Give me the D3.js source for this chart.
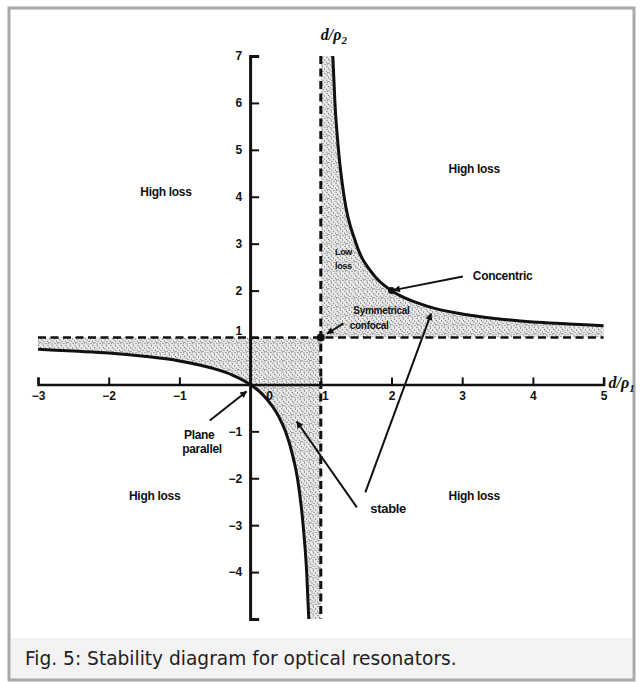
<!DOCTYPE html>
<html>
<head>
<meta charset="utf-8">
<script src="https://cdn.jsdelivr.net/npm/d3@7"></script>
<style>
  body { margin: 0; background: #fff; }
  svg { display: block; }
</style>
</head>
<body>
<svg id="fig" width="644" height="682"></svg>
<script>
// Stability boundary (1 - d/ρ1)(1 - d/ρ2) = 1, lower-left branch
const lowerBranchX = [-3, -2.5, -2, -1.5, -1, -0.5, -0.25, 0, 0.2, 0.4, 0.5, 0.6, 0.67, 0.75, 0.8, 0.83];
const lowerBranchY = [0.75, 0.71, 0.67, 0.6, 0.5, 0.33, 0.2, 0, -0.25, -0.67, -1, -1.5, -2, -3, -4, -5];
// upper-right branch
const upperBranchX = [1.17, 1.2, 1.25, 1.33, 1.5, 1.75, 2, 2.5, 3, 3.5, 4, 4.5, 5];
const upperBranchY = [7, 6, 5, 4, 3, 2.33, 2, 1.67, 1.5, 1.4, 1.33, 1.29, 1.25];

// axis ticks
const xTickValues = [-3, -2, -1, 0, 1, 2, 3, 4, 5];
const xTickLabels = ["\u22123", "\u22122", "\u22121", "0", "1", "2", "3", "4", "5"];
const yTickValues = [-4, -3, -2, -1, 1, 2, 3, 4, 5, 6, 7];
const yTickLabels = ["\u22124", "\u22123", "\u22122", "\u22121", "1", "2", "3", "4", "5", "6", "7"];

// named resonator configurations (d/ρ1, d/ρ2)
const specialNames = ["Symmetrical confocal", "Concentric", "Plane parallel"];
const specialX = [1, 2, 0];
const specialY = [1, 2, 0];

// region labels
const regionText = ["High loss", "High loss", "High loss", "High loss"];
const regionX = [-1.19, 3.17, -1.35, 3.17];
const regionY = [4.09, 4.58, -2.39, -2.39];

const captionText = "Fig. 5: Stability diagram for optical resonators.";

const svg = d3.select("#fig");

// figure frame and caption band
svg.append("rect").attr("x", 10.5).attr("y", 638).attr("width", 622).attr("height", 41)
  .attr("fill", "#f3f3f3");
svg.append("rect").attr("x", 9).attr("y", 8).attr("width", 625).attr("height", 672)
  .attr("fill", "none").attr("stroke", "#a8a8a8").attr("stroke-width", 3);

const cap = svg.append("text").attr("x", 25).attr("y", 659)
  .attr("font-family", "DejaVu Sans").attr("font-size", 14).attr("fill", "#222")
  .attr("dominant-baseline", "middle").text(captionText);
const capLen = cap.node().getComputedTextLength();
cap.attr("font-size", 14 * 432 / capLen);

const xs = d3.scaleLinear().domain([-3, 5]).range([38, 603.6]);
const ys = d3.scaleLinear().domain([-5, 7]).range([619, 56]);

// stipple texture for the stable region
const defs = svg.append("defs");
const pat = defs.append("pattern").attr("id", "stipple").attr("patternUnits", "userSpaceOnUse")
  .attr("width", 9).attr("height", 9);
pat.append("rect").attr("width", 9).attr("height", 9).attr("fill", "#e9e9e9");
const dotXs = [1, 5, 7.5, 3, 0.5, 6, 2.5, 8, 4.5, 3.5, 7];
const dotYs = [1.5, 0.5, 4, 3.5, 6, 7, 8.2, 8.5, 5.5, 1, 2];
dotXs.forEach((dx, i) => {
  pat.append("circle").attr("cx", dx).attr("cy", dotYs[i]).attr("r", 0.65).attr("fill", "#7a7a7a");
});

const arrowDef = defs.append("marker").attr("id", "head").attr("viewBox", "0 0 10 10")
  .attr("refX", 9).attr("refY", 5).attr("markerWidth", 10).attr("markerHeight", 7)
  .attr("markerUnits", "userSpaceOnUse").attr("orient", "auto");
arrowDef.append("path").attr("d", "M0,0 L10,5 L0,10 Z").attr("fill", "#111");

const lower = lowerBranchX.map((x, i) => [x, lowerBranchY[i]]);
const upper = upperBranchX.map((x, i) => [x, upperBranchY[i]]);

const lineGen = d3.line().x(d => xs(d[0])).y(d => ys(d[1])).curve(d3.curveMonotoneX);

// stable region bounded by the lower branch and the lines d/ρ = 1
svg.append("path")
  .attr("d", lineGen(lower) +
    `L${xs(1)},${ys(-5)}L${xs(1)},${ys(1)}L${xs(-3)},${ys(1)}Z`)
  .attr("fill", "url(#stipple)");
// stable region between the asymptotes and the upper branch
svg.append("path")
  .attr("d", lineGen(upper) +
    `L${xs(5)},${ys(1)}L${xs(1)},${ys(1)}L${xs(1)},${ys(7)}Z`)
  .attr("fill", "url(#stipple)");

// dashed asymptotes d/ρ1 = 1 and d/ρ2 = 1
svg.append("line").attr("x1", xs(-3)).attr("x2", xs(5)).attr("y1", ys(1)).attr("y2", ys(1))
  .attr("stroke", "#111").attr("stroke-width", 2.5).attr("stroke-dasharray", "8,4.5");
svg.append("line").attr("x1", xs(1)).attr("x2", xs(1)).attr("y1", ys(7)).attr("y2", ys(-5))
  .attr("stroke", "#111").attr("stroke-width", 3).attr("stroke-dasharray", "8,4.5");

// boundary curves
[lower, upper].forEach(b => {
  svg.append("path").attr("d", lineGen(b)).attr("fill", "none")
    .attr("stroke", "#111").attr("stroke-width", 3);
});

// axes
const xAxis = d3.axisBottom(xs).tickValues(xTickValues)
  .tickFormat((d, i) => xTickLabels[i]).tickSizeInner(-7).tickSizeOuter(-7).tickPadding(7);
const gx = svg.append("g").attr("transform", `translate(0,${ys(0)})`).call(xAxis);
gx.select(".domain").attr("stroke", "#111").attr("stroke-width", 2.5);
gx.selectAll(".tick line").attr("stroke", "#111").attr("stroke-width", 2);
gx.selectAll(".tick text").attr("font-family", "Liberation Sans").attr("font-weight", "bold")
  .attr("font-size", 12).attr("fill", "#111")
  .attr("dx", d => d === 0 ? 19 : (d === 1 ? 4 : 0));
gx.selectAll(".tick").filter(d => d === 0).select("line").remove();

const yAxis = d3.axisLeft(ys).tickValues(yTickValues)
  .tickFormat((d, i) => yTickLabels[i]).tickSizeInner(-9).tickSizeOuter(-9).tickPadding(8);
const gy = svg.append("g").attr("transform", `translate(${xs(0)},0)`).call(yAxis);
gy.select(".domain").attr("stroke", "#111").attr("stroke-width", 3);
gy.selectAll(".tick line").attr("stroke", "#111").attr("stroke-width", 2);
gy.selectAll(".tick text").attr("font-family", "Liberation Sans").attr("font-weight", "bold")
  .attr("font-size", 12).attr("fill", "#111")
  .attr("dy", d => d === 1 ? "-0.25em" : "0.32em");

// axis titles
const tx = svg.append("text").attr("x", xs(5) + 5).attr("y", ys(0) + 4)
  .attr("font-family", "Liberation Serif").attr("font-style", "italic").attr("font-weight", "bold")
  .attr("font-size", 16).attr("fill", "#111");
tx.append("tspan").text("d/\u03c1");
tx.append("tspan").attr("font-size", 11).attr("dy", 4).text("1");
const ty = svg.append("text").attr("x", xs(1) + 13).attr("y", 40).attr("text-anchor", "middle")
  .attr("font-family", "Liberation Serif").attr("font-style", "italic").attr("font-weight", "bold")
  .attr("font-size", 16).attr("fill", "#111");
ty.append("tspan").text("d/\u03c1");
ty.append("tspan").attr("font-size", 11).attr("dy", 4).text("2");

// markers at the named configurations (not the plane-parallel origin)
specialX.forEach((x, i) => {
  if (specialNames[i] === "Plane parallel") return;
  svg.append("circle").attr("cx", xs(x)).attr("cy", ys(specialY[i]))
    .attr("r", i === 0 ? 4 : 3.5).attr("fill", "#111");
});

// annotation arrows (start and tip in data units)
const arrowFromX = [3.01, 1.32, -0.57, 1.51, 1.63];
const arrowFromY = [2.30, 1.30, -0.77, -2.62, -2.30];
const arrowToX = [2.03, 1.09, -0.05, 0.66, 2.56];
const arrowToY = [2.01, 1.08, -0.15, -0.79, 1.51];
arrowFromX.forEach((x, i) => {
  svg.append("line").attr("x1", xs(x)).attr("y1", ys(arrowFromY[i]))
    .attr("x2", xs(arrowToX[i])).attr("y2", ys(arrowToY[i]))
    .attr("stroke", "#111").attr("stroke-width", 2).attr("marker-end", "url(#head)");
});

function label(txt, x, y, size, anchor) {
  svg.append("text").attr("x", xs(x)).attr("y", ys(y)).attr("text-anchor", anchor || "start")
    .attr("dominant-baseline", "middle")
    .attr("font-family", "Liberation Sans").attr("font-weight", "bold")
    .attr("font-size", size).attr("letter-spacing", -0.3).attr("fill", "#111").text(txt);
}

regionText.forEach((t, i) => label(t, regionX[i], regionY[i], 12, "middle"));
label("Low", 1.20, 2.81, 9);
label("loss", 1.20, 2.52, 9);
label("Concentric", 3.15, 2.30, 12);
label("Symmetrical", 1.46, 1.56, 10);
label("confocal", 1.41, 1.24, 10);
label("Plane", -0.72, -1.09, 12, "middle");
label("parallel", -0.68, -1.39, 12, "middle");
label("stable", 1.70, -2.67, 13);
</script>
</body>
</html>
